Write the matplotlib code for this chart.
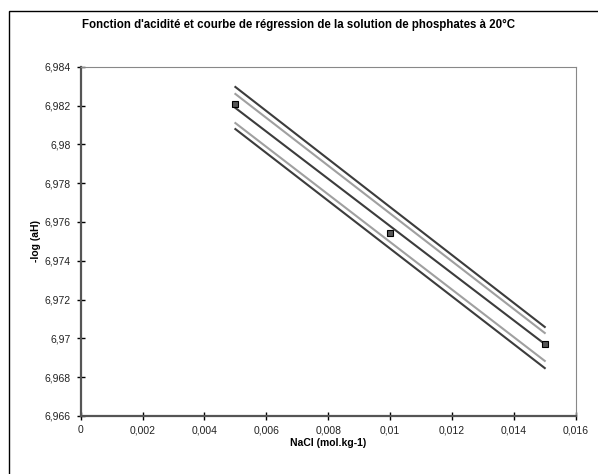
import matplotlib
matplotlib.use("Agg")
import matplotlib.pyplot as plt
from matplotlib.patches import Rectangle
from matplotlib.ticker import FuncFormatter, MultipleLocator

plt.rcParams['font.family'] = ['Liberation Sans', 'DejaVu Sans']

# donnees
nacl = [0.005, 0.010, 0.015]
mesures = [6.98208, 6.97543, 6.96971]
regression = [6.98188, 6.97579, 6.96971]
conf_haut = [6.98260, 6.97644, 6.97028]
conf_bas = [6.98110, 6.97497, 6.96884]
pred_haut = [6.98296, 6.97677, 6.97059]
pred_bas = [6.98079, 6.97463, 6.96847]

fig = plt.figure(figsize=(5.98, 4.74), dpi=100)
fig.patches.append(Rectangle((9 / 598, -0.1), 1.2, 1 - 11 / 474 + 0.1,
                             transform=fig.transFigure, fill=False,
                             edgecolor='black', linewidth=1.0))

ax = fig.add_axes([80.7 / 598, 1 - 416 / 474, (575.7 - 80.7) / 598, (416 - 66.8) / 474])

dark = '#3c3c3c'
grey = '#a0a0a0'
ax.plot(nacl, pred_haut, color=dark, lw=1.5)
ax.plot(nacl, pred_bas, color=dark, lw=1.5)
ax.plot(nacl, conf_haut, color=grey, lw=1.5)
ax.plot(nacl, conf_bas, color=grey, lw=1.5)
ax.plot(nacl, regression, color=dark, lw=1.5)
ax.plot(nacl, mesures, linestyle='none', marker='s', markersize=5,
        markerfacecolor='#555555', markeredgecolor='black', markeredgewidth=0.8)

ax.set_xlim(0, 0.016)
ax.set_ylim(6.966, 6.984)
ax.xaxis.set_major_locator(MultipleLocator(0.002))
ax.yaxis.set_major_locator(MultipleLocator(0.002))


def virgule(v, pos):
    return ('%g' % round(v, 6)).replace('.', ',')


ax.xaxis.set_major_formatter(FuncFormatter(virgule))
ax.yaxis.set_major_formatter(FuncFormatter(virgule))
ax.tick_params(direction='inout', length=6, width=1, labelsize=7.5, color='black',
               labelcolor='#222222')
ax.tick_params(axis='y', pad=4)
ax.tick_params(axis='x', pad=3.5)

for s in ['left', 'bottom']:
    ax.spines[s].set_color('#555555')
    ax.spines[s].set_linewidth(1.6)
for s in ['top', 'right']:
    ax.spines[s].set_color('#888888')
    ax.spines[s].set_linewidth(0.8)

ax.set_xlabel('NaCl (mol.kg-1)', fontsize=7.5, fontweight='bold', labelpad=2.5)
ax.set_ylabel('-log (aH)', fontsize=7.5, fontweight='bold', labelpad=3)
fig.text(0.5, 1 - 25 / 474, "Fonction d'acidité et courbe de régression de la solution de phosphates à 20°C",
         ha='center', va='center', fontsize=8.3, fontweight='bold')

fig.savefig('out.png', dpi=100)
